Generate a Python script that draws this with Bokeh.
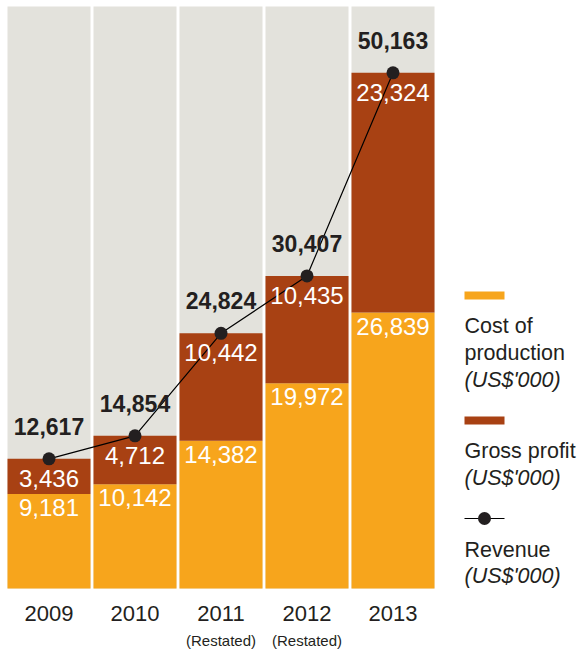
from bokeh.plotting import figure
from bokeh.models import Range1d, ColumnDataSource
from bokeh.core.properties import value
from bokeh.embed import file_html
from bokeh.resources import INLINE

# ---- data ----
years = ["2009", "2010", "2011", "2012", "2013"]
notes = ["", "", "(Restated)", "(Restated)", ""]
cost = [9181, 10142, 14382, 19972, 26839]
gross = [3436, 4712, 10442, 10435, 23324]
revenue = [12617, 14854, 24824, 30407, 50163]

# ---- styling ----
GREY = "#E3E2DC"
ORANGE = "#F7A51C"
BROWN = "#A84113"
DARK = "#231F20"
FONT = "Liberation Sans"

W, H = 585, 653
# pixel -> data helpers (frame covers the whole canvas)
PX0, PITCH = 48.5, 86.0       # centre of first column, column pitch
PY0, SCALE = 588.0, 0.01028   # baseline pixel, pixels per unit


def xd(px):
    return (px - PX0) / PITCH


def yd(py):
    return (PY0 - py) / SCALE


p = figure(width=W, height=H, output_backend="svg", toolbar_location=None,
           x_range=Range1d(xd(0), xd(W)), y_range=Range1d(yd(H), yd(0)),
           min_border=0, outline_line_color=None, background_fill_color="white")
p.axis.visible = False
p.grid.visible = False

xs = list(range(len(years)))
bw = 83 / PITCH
bg_top = yd(6)

src = ColumnDataSource(dict(
    x=xs, cost=cost, gross=gross, revenue=revenue,
    cost_lbl=[f"{v:,}" for v in cost],
    gross_lbl=[f"{v:,}" for v in gross],
    rev_lbl=[f"{v:,}" for v in revenue],
    years=years, notes=notes,
    bg=[bg_top] * len(years),
    ylab=[yd(613)] * len(years),
    ynote=[yd(640)] * len(years),
))

p.vbar(x="x", top="bg", bottom=0, width=bw, source=src, fill_color=GREY, line_color=None)
p.vbar_stack(["cost", "gross"], x="x", width=bw, source=src,
             fill_color=[ORANGE, BROWN], line_color=None)

p.line(x="x", y="revenue", source=src, line_color="black", line_width=1.2)
p.scatter(x="x", y="revenue", source=src, size=13, fill_color=DARK, line_color=None)

p.text(x="x", y="cost", text="cost_lbl", source=src, text_align="center",
       text_baseline="top", y_offset=5, text_color="white",
       text_font=value(FONT), text_font_size="24px")
p.text(x="x", y="revenue", text="gross_lbl", source=src, text_align="center",
       text_baseline="top", y_offset=11, text_color="white",
       text_font=value(FONT), text_font_size="24px")
p.text(x="x", y="revenue", text="rev_lbl", source=src, text_align="center",
       text_baseline="bottom", y_offset=-24, text_color=DARK,
       text_font=value(FONT), text_font_size="23px", text_font_style="bold")

p.text(x="x", y="ylab", text="years", source=src, text_align="center",
       text_baseline="middle", text_color=DARK,
       text_font=value(FONT), text_font_size="22px")
p.text(x="x", y="ynote", text="notes", source=src, text_align="center",
       text_baseline="middle", text_color=DARK,
       text_font=value(FONT), text_font_size="15px")

# ---- legend (hand-built) ----
p.quad(left=[xd(464)], right=[xd(504)], top=[yd(291)], bottom=[yd(299)],
       fill_color=ORANGE, line_color=None)
p.quad(left=[xd(464)], right=[xd(504)], top=[yd(416)], bottom=[yd(424)],
       fill_color=BROWN, line_color=None)
p.line(x=[xd(464), xd(504)], y=[yd(518), yd(518)], line_color="black", line_width=1.2)
p.scatter(x=[xd(484)], y=[yd(518)], size=13, fill_color=DARK, line_color=None)

leg_lines = [
    ("Cost of", 325, "normal"),
    ("production", 352, "normal"),
    ("(US$'000)", 379, "italic"),
    ("Gross profit", 450, "normal"),
    ("(US$'000)", 477, "italic"),
    ("Revenue", 549, "normal"),
    ("(US$'000)", 575, "italic"),
]
for txt, cy, style in leg_lines:
    p.text(x=[xd(464)], y=[yd(cy)], text=[txt], text_align="left",
           text_baseline="middle", text_color=DARK,
           text_font=value(FONT), text_font_size="21.5px", text_font_style=style)

open("out.html", "w").write(file_html(p, INLINE))
